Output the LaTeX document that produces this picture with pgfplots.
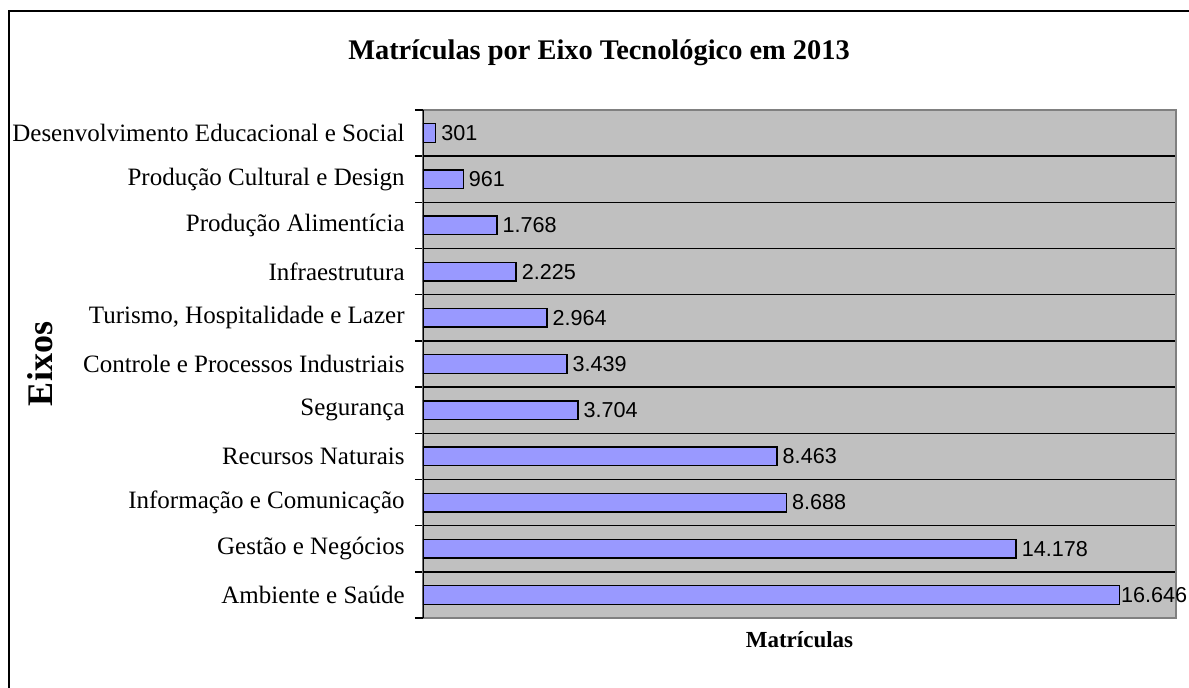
\documentclass[border=0pt]{standalone}
\usepackage{pgfplots}
\pgfplotsset{compat=1.18}
\usepackage{fontspec}
\setmainfont{Liberation Serif}
\newfontfamily\valfont{Liberation Sans}
\definecolor{plotgray}{HTML}{C0C0C0}
\definecolor{bordergray}{HTML}{808080}
\definecolor{barblue}{HTML}{9999FF}
\begin{document}
\begin{tikzpicture}
\useasboundingbox (0,0) rectangle (594.5pt,-344pt);
\draw[line width=1pt] (4.5pt,-350pt) -- (4.5pt,-5.75pt) -- (600pt,-5.75pt);
\begin{axis}[
  at={(211.5pt,-309pt)}, anchor=south west,
  scale only axis, width=376.5pt, height=254pt,
  xmin=0, xmax=18000, ymin=-0.5, ymax=10.5,
  xbar, bar width=9.3pt,
  axis background/.style={fill=plotgray},
  axis line style={draw=bordergray, line width=0.7pt},
  xtick=\empty,
  ytick pos=left,
  ytick={0,...,10},
  yticklabels={Ambiente e Saúde, Gestão e Negócios, Informação e Comunicação, Recursos Naturais, Segurança, Controle e Processos Industriais, {Turismo, Hospitalidade e Lazer}, Infraestrutura, Produção Alimentícia, Produção Cultural e Design, Desenvolvimento Educacional e Social},
  yticklabel style={font=\fontsize{12.5}{14}\selectfont, anchor=east, inner sep=0pt, xshift=-9pt},
  major tick length=0pt,
  minor ytick={0.5,1.5,...,9.5},
  yminorgrids,
  minor grid style={black, line width=0.7pt},
  minor tick length=4pt,
  tick align=outside,
  minor tick style={black, line width=0.7pt},
  extra y ticks={-0.5,10.5},
  extra y tick labels={},
  extra y tick style={grid=none, major tick length=4pt, tick style={black, line width=0.7pt}},
  point meta=x,
  nodes near coords={\pgfmathprintnumber[fixed, precision=0, 1000 sep={.}]{\pgfplotspointmeta}},
  nodes near coords style={font=\valfont\fontsize{10.8}{13}\selectfont, anchor=west, inner sep=1pt, xshift=1.5pt},
  coordinate style/.condition={x>16000}{xshift=-2pt},
  /pgf/number format/assume math mode=true,
  title={\textbf{Matrículas por Eixo Tecnológico em 2013}},
  title style={at={(rel axis cs:0.2337,1.09)}, anchor=center, font=\fontsize{14.2}{16}\selectfont},
  xlabel={\textbf{Matrículas}},
  xlabel style={at={(axis description cs:0.5,0)}, anchor=center, yshift=-11pt, font=\fontsize{11.5}{13}\selectfont},
  ylabel={\textbf{Eixos}},
  ylabel style={at={(axis description cs:-0.5086,0.5)}, anchor=center, font=\fontsize{18}{20}\selectfont},
]
\addplot[fill=barblue, draw=black, line width=0.7pt] coordinates {
  (16646,0) (14178,1) (8688,2) (8463,3) (3704,4) (3439,5) (2964,6) (2225,7) (1768,8) (961,9) (301,10)
};
\draw[black, line width=1pt] (rel axis cs:0,0) -- (rel axis cs:0,1);
\end{axis}
\end{tikzpicture}
\end{document}
